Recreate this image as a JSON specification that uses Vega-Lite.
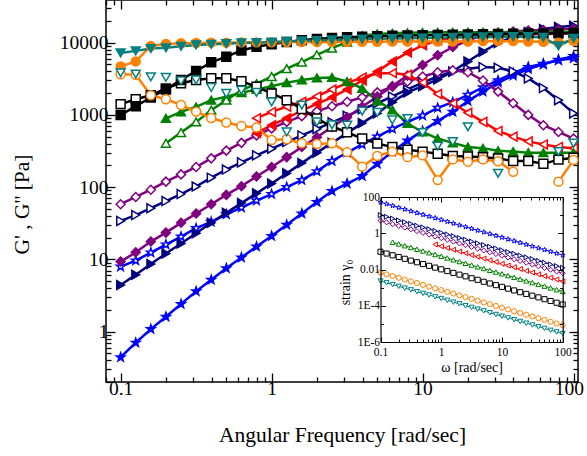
{
"$schema": "https://vega.github.io/schema/vega-lite/v6.json",
"width": 472, "height": 382,
"autosize": {"type": "none"},
"padding": {"left": 106, "top": 0, "right": 9, "bottom": 74},
"background": "white",
"config": {
  "font": "Liberation Serif",
  "view": {"stroke": "black", "strokeWidth": 1.5},
  "axis": {"labelFont": "Liberation Serif", "titleFont": "Liberation Serif", "titleFontWeight": "normal", "labelColor": "black", "titleColor": "black", "domainColor": "black", "tickColor": "black", "grid": false, "labelFlush": false, "labelOverlap": false, "labelBound": false}
},
"datasets": {
"main": [
{"s":"bl2","w":0.1,"v":7.9},{"s":"bl2","w":0.1259,"v":9.6},{"s":"bl2","w":0.1585,"v":12.4},{"s":"bl2","w":0.1995,"v":16},{"s":"bl2","w":0.2512,"v":20.6},{"s":"bl2","w":0.3162,"v":27},{"s":"bl2","w":0.3981,"v":33},{"s":"bl2","w":0.5012,"v":42},{"s":"bl2","w":0.631,"v":52},{"s":"bl2","w":0.7943,"v":65},{"s":"bl2","w":1,"v":80},{"s":"bl2","w":1.259,"v":100},{"s":"bl2","w":1.585,"v":125},{"s":"bl2","w":1.995,"v":165},{"s":"bl2","w":2.512,"v":230},{"s":"bl2","w":3.162,"v":300},{"s":"bl2","w":3.981,"v":390},{"s":"bl2","w":5.012,"v":500},{"s":"bl2","w":6.31,"v":640},{"s":"bl2","w":7.943,"v":800},{"s":"bl2","w":10,"v":980},{"s":"bl2","w":12.59,"v":1250},{"s":"bl2","w":15.85,"v":1500},{"s":"bl2","w":19.95,"v":1900},{"s":"bl2","w":25.12,"v":2400},{"s":"bl2","w":31.62,"v":3000},{"s":"bl2","w":39.81,"v":3800},{"s":"bl2","w":50.12,"v":4600},{"s":"bl2","w":63.1,"v":5100},{"s":"bl2","w":79.43,"v":5700},{"s":"bl2","w":100,"v":6100},
{"s":"bl1","w":0.1,"v":0.44},{"s":"bl1","w":0.1259,"v":0.7},{"s":"bl1","w":0.1585,"v":1.08},{"s":"bl1","w":0.1995,"v":1.6},{"s":"bl1","w":0.2512,"v":2.4},{"s":"bl1","w":0.3162,"v":3.6},{"s":"bl1","w":0.3981,"v":5.2},{"s":"bl1","w":0.5012,"v":7.5},{"s":"bl1","w":0.631,"v":10.6},{"s":"bl1","w":0.7943,"v":15},{"s":"bl1","w":1,"v":21},{"s":"bl1","w":1.259,"v":30},{"s":"bl1","w":1.585,"v":43},{"s":"bl1","w":1.995,"v":62},{"s":"bl1","w":2.512,"v":88},{"s":"bl1","w":3.162,"v":112},{"s":"bl1","w":3.981,"v":142},{"s":"bl1","w":5.012,"v":210},{"s":"bl1","w":6.31,"v":310},{"s":"bl1","w":7.943,"v":440},{"s":"bl1","w":10,"v":600},{"s":"bl1","w":12.59,"v":820},{"s":"bl1","w":15.85,"v":1100},{"s":"bl1","w":19.95,"v":1550},{"s":"bl1","w":25.12,"v":2100},{"s":"bl1","w":31.62,"v":2800},{"s":"bl1","w":39.81,"v":3500},{"s":"bl1","w":50.12,"v":4300},{"s":"bl1","w":63.1,"v":5000},{"s":"bl1","w":79.43,"v":5800},{"s":"bl1","w":100,"v":6500},
{"s":"nv2","w":0.1,"v":34},{"s":"nv2","w":0.1259,"v":41},{"s":"nv2","w":0.1585,"v":51},{"s":"nv2","w":0.1995,"v":64},{"s":"nv2","w":0.2512,"v":80},{"s":"nv2","w":0.3162,"v":102},{"s":"nv2","w":0.3981,"v":135},{"s":"nv2","w":0.5012,"v":175},{"s":"nv2","w":0.631,"v":220},{"s":"nv2","w":0.7943,"v":275},{"s":"nv2","w":1,"v":340},{"s":"nv2","w":1.259,"v":420},{"s":"nv2","w":1.585,"v":520},{"s":"nv2","w":1.995,"v":640},{"s":"nv2","w":2.512,"v":790},{"s":"nv2","w":3.162,"v":970},{"s":"nv2","w":3.981,"v":1200},{"s":"nv2","w":5.012,"v":1450},{"s":"nv2","w":6.31,"v":1800},{"s":"nv2","w":7.943,"v":2250},{"s":"nv2","w":10,"v":2800},{"s":"nv2","w":12.59,"v":3400},{"s":"nv2","w":15.85,"v":3950},{"s":"nv2","w":19.95,"v":4350},{"s":"nv2","w":25.12,"v":4600},{"s":"nv2","w":31.62,"v":4500},{"s":"nv2","w":39.81,"v":4000},{"s":"nv2","w":50.12,"v":3200},{"s":"nv2","w":63.1,"v":2350},{"s":"nv2","w":79.43,"v":1600},{"s":"nv2","w":100,"v":1050},
{"s":"nv1","w":0.1,"v":4.4},{"s":"nv1","w":0.1259,"v":6.1},{"s":"nv1","w":0.1585,"v":8.6},{"s":"nv1","w":0.1995,"v":12},{"s":"nv1","w":0.2512,"v":16.6},{"s":"nv1","w":0.3162,"v":23},{"s":"nv1","w":0.3981,"v":32},{"s":"nv1","w":0.5012,"v":44},{"s":"nv1","w":0.631,"v":60},{"s":"nv1","w":0.7943,"v":82},{"s":"nv1","w":1,"v":112},{"s":"nv1","w":1.259,"v":155},{"s":"nv1","w":1.585,"v":215},{"s":"nv1","w":1.995,"v":300},{"s":"nv1","w":2.512,"v":410},{"s":"nv1","w":3.162,"v":560},{"s":"nv1","w":3.981,"v":770},{"s":"nv1","w":5.012,"v":1050},{"s":"nv1","w":6.31,"v":1500},{"s":"nv1","w":7.943,"v":2050},{"s":"nv1","w":10,"v":2500},{"s":"nv1","w":12.59,"v":3100},{"s":"nv1","w":15.85,"v":4000},{"s":"nv1","w":19.95,"v":5500},{"s":"nv1","w":25.12,"v":7500},{"s":"nv1","w":31.62,"v":9900},{"s":"nv1","w":39.81,"v":12000},{"s":"nv1","w":50.12,"v":14000},{"s":"nv1","w":63.1,"v":15500},{"s":"nv1","w":79.43,"v":16500},{"s":"nv1","w":100,"v":17100},
{"s":"pu2","w":0.1,"v":58},{"s":"pu2","w":0.1259,"v":73},{"s":"pu2","w":0.1585,"v":92},{"s":"pu2","w":0.1995,"v":119},{"s":"pu2","w":0.2512,"v":150},{"s":"pu2","w":0.3162,"v":190},{"s":"pu2","w":0.3981,"v":250},{"s":"pu2","w":0.5012,"v":320},{"s":"pu2","w":0.631,"v":410},{"s":"pu2","w":0.7943,"v":520},{"s":"pu2","w":1,"v":650},{"s":"pu2","w":1.259,"v":800},{"s":"pu2","w":1.585,"v":960},{"s":"pu2","w":1.995,"v":1120},{"s":"pu2","w":2.512,"v":1320},{"s":"pu2","w":3.162,"v":1520},{"s":"pu2","w":3.981,"v":1750},{"s":"pu2","w":5.012,"v":2050},{"s":"pu2","w":6.31,"v":2450},{"s":"pu2","w":7.943,"v":2900},{"s":"pu2","w":10,"v":3400},{"s":"pu2","w":12.59,"v":3900},{"s":"pu2","w":15.85,"v":4150},{"s":"pu2","w":19.95,"v":3900},{"s":"pu2","w":25.12,"v":3000},{"s":"pu2","w":31.62,"v":2100},{"s":"pu2","w":39.81,"v":1450},{"s":"pu2","w":50.12,"v":1000},{"s":"pu2","w":63.1,"v":720},{"s":"pu2","w":79.43,"v":580},{"s":"pu2","w":100,"v":470},
{"s":"pu1","w":0.1,"v":9.3},{"s":"pu1","w":0.1259,"v":12.5},{"s":"pu1","w":0.1585,"v":17.6},{"s":"pu1","w":0.1995,"v":23.4},{"s":"pu1","w":0.2512,"v":32},{"s":"pu1","w":0.3162,"v":43},{"s":"pu1","w":0.3981,"v":58},{"s":"pu1","w":0.5012,"v":78},{"s":"pu1","w":0.631,"v":103},{"s":"pu1","w":0.7943,"v":140},{"s":"pu1","w":1,"v":190},{"s":"pu1","w":1.259,"v":260},{"s":"pu1","w":1.585,"v":360},{"s":"pu1","w":1.995,"v":490},{"s":"pu1","w":2.512,"v":680},{"s":"pu1","w":3.162,"v":930},{"s":"pu1","w":3.981,"v":1300},{"s":"pu1","w":5.012,"v":1800},{"s":"pu1","w":6.31,"v":2500},{"s":"pu1","w":7.943,"v":3500},{"s":"pu1","w":10,"v":4900},{"s":"pu1","w":12.59,"v":6700},{"s":"pu1","w":15.85,"v":8700},{"s":"pu1","w":19.95,"v":10800},{"s":"pu1","w":25.12,"v":12600},{"s":"pu1","w":31.62,"v":13700},{"s":"pu1","w":39.81,"v":14300},{"s":"pu1","w":50.12,"v":14700},{"s":"pu1","w":63.1,"v":15000},{"s":"pu1","w":79.43,"v":15300},{"s":"pu1","w":100,"v":15600},
{"s":"rd2","w":0.7943,"v":900},{"s":"rd2","w":1,"v":1100},{"s":"rd2","w":1.259,"v":1300},{"s":"rd2","w":1.585,"v":1520},{"s":"rd2","w":1.995,"v":1800},{"s":"rd2","w":2.512,"v":2250},{"s":"rd2","w":3.162,"v":2750},{"s":"rd2","w":3.981,"v":3300},{"s":"rd2","w":5.012,"v":3750},{"s":"rd2","w":6.31,"v":3800},{"s":"rd2","w":7.943,"v":3600},{"s":"rd2","w":10,"v":2800},{"s":"rd2","w":12.59,"v":1950},{"s":"rd2","w":15.85,"v":1450},{"s":"rd2","w":19.95,"v":1070},{"s":"rd2","w":25.12,"v":800},{"s":"rd2","w":31.62,"v":600},{"s":"rd2","w":39.81,"v":500},{"s":"rd2","w":50.12,"v":430},{"s":"rd2","w":63.1,"v":390},{"s":"rd2","w":79.43,"v":360},{"s":"rd2","w":100,"v":345},
{"s":"rd1","w":0.7943,"v":560},{"s":"rd1","w":1,"v":720},{"s":"rd1","w":1.259,"v":900},{"s":"rd1","w":1.585,"v":1150},{"s":"rd1","w":1.995,"v":1420},{"s":"rd1","w":2.512,"v":1750},{"s":"rd1","w":3.162,"v":2250},{"s":"rd1","w":3.981,"v":3000},{"s":"rd1","w":5.012,"v":4000},{"s":"rd1","w":6.31,"v":5500},{"s":"rd1","w":7.943,"v":7300},{"s":"rd1","w":10,"v":9200},{"s":"rd1","w":12.59,"v":10800},{"s":"rd1","w":15.85,"v":11800},{"s":"rd1","w":19.95,"v":12300},{"s":"rd1","w":25.12,"v":12600},{"s":"rd1","w":31.62,"v":12800},{"s":"rd1","w":39.81,"v":13000},{"s":"rd1","w":50.12,"v":13100},{"s":"rd1","w":63.1,"v":13200},{"s":"rd1","w":79.43,"v":13300},{"s":"rd1","w":100,"v":13400},
{"s":"gr1","w":0.1995,"v":895},{"s":"gr1","w":0.2512,"v":1100},{"s":"gr1","w":0.3162,"v":1290},{"s":"gr1","w":0.3981,"v":1600},{"s":"gr1","w":0.5012,"v":1780},{"s":"gr1","w":0.631,"v":2030},{"s":"gr1","w":0.7943,"v":2250},{"s":"gr1","w":1,"v":2500},{"s":"gr1","w":1.259,"v":2800},{"s":"gr1","w":1.585,"v":3050},{"s":"gr1","w":1.995,"v":3250},{"s":"gr1","w":2.512,"v":3300},{"s":"gr1","w":3.162,"v":2900},{"s":"gr1","w":3.981,"v":2330},{"s":"gr1","w":5.012,"v":1560},{"s":"gr1","w":6.31,"v":1170},{"s":"gr1","w":7.943,"v":760},{"s":"gr1","w":10,"v":580},{"s":"gr1","w":12.59,"v":470},{"s":"gr1","w":15.85,"v":410},{"s":"gr1","w":19.95,"v":360},{"s":"gr1","w":25.12,"v":345},{"s":"gr1","w":31.62,"v":320},{"s":"gr1","w":39.81,"v":310},{"s":"gr1","w":50.12,"v":300},{"s":"gr1","w":63.1,"v":300},{"s":"gr1","w":79.43,"v":300},{"s":"gr1","w":100,"v":300},
{"s":"gr2","w":0.1995,"v":404},{"s":"gr2","w":0.2512,"v":570},{"s":"gr2","w":0.3162,"v":800},{"s":"gr2","w":0.3981,"v":1160},{"s":"gr2","w":0.5012,"v":1600},{"s":"gr2","w":0.631,"v":2190},{"s":"gr2","w":0.7943,"v":2700},{"s":"gr2","w":1,"v":3400},{"s":"gr2","w":1.259,"v":4370},{"s":"gr2","w":1.585,"v":5400},{"s":"gr2","w":1.995,"v":6800},{"s":"gr2","w":2.512,"v":8400},{"s":"gr2","w":3.162,"v":10200},{"s":"gr2","w":3.981,"v":12500},{"s":"gr2","w":5.012,"v":13200},{"s":"gr2","w":6.31,"v":13500},{"s":"gr2","w":7.943,"v":13700},{"s":"gr2","w":10,"v":13800},{"s":"gr2","w":12.59,"v":13900},{"s":"gr2","w":15.85,"v":13900},{"s":"gr2","w":19.95,"v":14000},{"s":"gr2","w":25.12,"v":14000},{"s":"gr2","w":31.62,"v":14000},{"s":"gr2","w":39.81,"v":14000},{"s":"gr2","w":50.12,"v":14000},{"s":"gr2","w":63.1,"v":14100},{"s":"gr2","w":79.43,"v":14100},{"s":"gr2","w":100,"v":14200},
{"s":"bk2","w":0.1,"v":1410},{"s":"bk2","w":0.1259,"v":1650},{"s":"bk2","w":0.1585,"v":1870},{"s":"bk2","w":0.1995,"v":2330},{"s":"bk2","w":0.2512,"v":2750},{"s":"bk2","w":0.3162,"v":3050},{"s":"bk2","w":0.3981,"v":3210},{"s":"bk2","w":0.5012,"v":3210},{"s":"bk2","w":0.631,"v":2930},{"s":"bk2","w":0.7943,"v":2450},{"s":"bk2","w":1,"v":1980},{"s":"bk2","w":1.259,"v":1600},{"s":"bk2","w":1.585,"v":1210},{"s":"bk2","w":1.995,"v":890},{"s":"bk2","w":2.512,"v":690},{"s":"bk2","w":3.162,"v":575},{"s":"bk2","w":3.981,"v":470},{"s":"bk2","w":5.012,"v":400},{"s":"bk2","w":6.31,"v":360},{"s":"bk2","w":7.943,"v":330},{"s":"bk2","w":10,"v":310},{"s":"bk2","w":12.59,"v":290},{"s":"bk2","w":15.85,"v":270},{"s":"bk2","w":19.95,"v":265},{"s":"bk2","w":25.12,"v":260},{"s":"bk2","w":31.62,"v":250},{"s":"bk2","w":39.81,"v":230},{"s":"bk2","w":50.12,"v":230},{"s":"bk2","w":63.1,"v":210},{"s":"bk2","w":79.43,"v":240},{"s":"bk2","w":100,"v":255},
{"s":"bk1","w":0.1,"v":995},{"s":"bk1","w":0.1259,"v":1320},{"s":"bk1","w":0.1585,"v":1740},{"s":"bk1","w":0.1995,"v":2250},{"s":"bk1","w":0.2512,"v":3050},{"s":"bk1","w":0.3162,"v":4050},{"s":"bk1","w":0.3981,"v":5350},{"s":"bk1","w":0.5012,"v":6400},{"s":"bk1","w":0.631,"v":7800},{"s":"bk1","w":0.7943,"v":8800},{"s":"bk1","w":1,"v":9500},{"s":"bk1","w":1.259,"v":10200},{"s":"bk1","w":1.585,"v":10800},{"s":"bk1","w":1.995,"v":11300},{"s":"bk1","w":2.512,"v":11600},{"s":"bk1","w":3.162,"v":11900},{"s":"bk1","w":3.981,"v":12100},{"s":"bk1","w":5.012,"v":12300},{"s":"bk1","w":6.31,"v":12500},{"s":"bk1","w":7.943,"v":12600},{"s":"bk1","w":10,"v":12700},{"s":"bk1","w":12.59,"v":12800},{"s":"bk1","w":15.85,"v":12900},{"s":"bk1","w":19.95,"v":13000},{"s":"bk1","w":25.12,"v":13100},{"s":"bk1","w":31.62,"v":13200},{"s":"bk1","w":39.81,"v":13300},{"s":"bk1","w":50.12,"v":13400},{"s":"bk1","w":63.1,"v":13400},{"s":"bk1","w":79.43,"v":13500},{"s":"bk1","w":100,"v":13600},
{"s":"or2","w":0.1,"v":3650},{"s":"or2","w":0.1259,"v":3600},{"s":"or2","w":0.1585,"v":1870},{"s":"or2","w":0.1995,"v":1650},{"s":"or2","w":0.2512,"v":1370},{"s":"or2","w":0.3162,"v":1110},{"s":"or2","w":0.3981,"v":905},{"s":"or2","w":0.5012,"v":785},{"s":"or2","w":0.631,"v":700},{"s":"or2","w":0.7943,"v":670},{"s":"or2","w":1,"v":450},{"s":"or2","w":1.259,"v":460},{"s":"or2","w":1.585,"v":405},{"s":"or2","w":1.995,"v":395},{"s":"or2","w":2.512,"v":405},{"s":"or2","w":3.162,"v":305},{"s":"or2","w":3.981,"v":192},{"s":"or2","w":5.012,"v":270},{"s":"or2","w":6.31,"v":310},{"s":"or2","w":7.943,"v":260},{"s":"or2","w":10,"v":275},{"s":"or2","w":12.59,"v":125},{"s":"or2","w":15.85,"v":242},{"s":"or2","w":19.95,"v":225},{"s":"or2","w":25.12,"v":242},{"s":"or2","w":31.62,"v":228},{"s":"or2","w":39.81,"v":163},{"s":"or2","w":79.43,"v":119,"g":"b"},{"s":"or2","w":100,"v":237,"g":"b"},
{"s":"or1","w":0.1,"v":4700},{"s":"or1","w":0.1259,"v":5500},{"s":"or1","w":0.1585,"v":9000},{"s":"or1","w":0.1995,"v":9600},{"s":"or1","w":0.2512,"v":9800},{"s":"or1","w":0.3162,"v":9900},{"s":"or1","w":0.3981,"v":10000},{"s":"or1","w":0.5012,"v":10000},{"s":"or1","w":0.631,"v":10100},{"s":"or1","w":0.7943,"v":10100},{"s":"or1","w":1,"v":10100},{"s":"or1","w":1.259,"v":10200},{"s":"or1","w":1.585,"v":10200},{"s":"or1","w":1.995,"v":10200},{"s":"or1","w":2.512,"v":10300},{"s":"or1","w":3.162,"v":10300},{"s":"or1","w":3.981,"v":10300},{"s":"or1","w":5.012,"v":10300},{"s":"or1","w":6.31,"v":10400},{"s":"or1","w":7.943,"v":10400},{"s":"or1","w":10,"v":10400},{"s":"or1","w":12.59,"v":10400},{"s":"or1","w":15.85,"v":10400},{"s":"or1","w":19.95,"v":10400},{"s":"or1","w":25.12,"v":10500},{"s":"or1","w":31.62,"v":10500},{"s":"or1","w":39.81,"v":10500},{"s":"or1","w":50.12,"v":10400},{"s":"or1","w":63.1,"v":10300},{"s":"or1","w":79.43,"v":10000},{"s":"or1","w":100,"v":10600},
{"s":"te2","w":0.1,"v":3820},{"s":"te2","w":0.1259,"v":3680},{"s":"te2","w":0.1585,"v":3370},{"s":"te2","w":0.1995,"v":3300},{"s":"te2","w":0.2512,"v":2950},{"s":"te2","w":0.3162,"v":3050},{"s":"te2","w":0.3981,"v":2400},{"s":"te2","w":0.5012,"v":1980},{"s":"te2","w":0.631,"v":2200},{"s":"te2","w":0.7943,"v":2050},{"s":"te2","w":1,"v":1520},{"s":"te2","w":1.259,"v":580},{"s":"te2","w":1.585,"v":1370},{"s":"te2","w":1.995,"v":800},{"s":"te2","w":2.512,"v":730},{"s":"te2","w":3.162,"v":720},{"s":"te2","w":3.981,"v":1130},{"s":"te2","w":5.012,"v":1080},{"s":"te2","w":6.31,"v":850},{"s":"te2","w":7.943,"v":890},{"s":"te2","w":10,"v":570},{"s":"te2","w":12.59,"v":370},{"s":"te2","w":15.85,"v":425},{"s":"te2","w":19.95,"v":685},{"s":"te2","w":31.62,"v":155},{"s":"te2","w":79.43,"v":310},{"s":"te2","w":100,"v":405},
{"s":"te1","w":0.1,"v":7200},{"s":"te1","w":0.1259,"v":7700},{"s":"te1","w":0.1585,"v":8300},{"s":"te1","w":0.1995,"v":8500},{"s":"te1","w":0.2512,"v":8900},{"s":"te1","w":0.3162,"v":9300},{"s":"te1","w":0.3981,"v":9500},{"s":"te1","w":0.5012,"v":9700},{"s":"te1","w":0.631,"v":9900},{"s":"te1","w":0.7943,"v":10000},{"s":"te1","w":1,"v":10200},{"s":"te1","w":1.259,"v":10400},{"s":"te1","w":1.585,"v":10600},{"s":"te1","w":1.995,"v":10700},{"s":"te1","w":2.512,"v":10900},{"s":"te1","w":3.162,"v":11000},{"s":"te1","w":3.981,"v":11200},{"s":"te1","w":5.012,"v":11300},{"s":"te1","w":6.31,"v":11400},{"s":"te1","w":7.943,"v":11500},{"s":"te1","w":10,"v":11600},{"s":"te1","w":12.59,"v":11700},{"s":"te1","w":15.85,"v":11800},{"s":"te1","w":19.95,"v":11900},{"s":"te1","w":25.12,"v":12000},{"s":"te1","w":31.62,"v":12000},{"s":"te1","w":39.81,"v":12100},{"s":"te1","w":50.12,"v":12100},{"s":"te1","w":63.1,"v":11800},{"s":"te1","w":79.43,"v":9000},{"s":"te1","w":100,"v":11500}
],
"ins": [
{"s":"bl2","w":0.1,"v":51},{"s":"bl2","w":0.1259,"v":41},{"s":"bl2","w":0.1585,"v":33},{"s":"bl2","w":0.1995,"v":26},{"s":"bl2","w":0.2512,"v":21},{"s":"bl2","w":0.3162,"v":16.5},{"s":"bl2","w":0.3981,"v":13.3},{"s":"bl2","w":0.5012,"v":10.6},{"s":"bl2","w":0.631,"v":8.5},{"s":"bl2","w":0.7943,"v":6.9},{"s":"bl2","w":1,"v":5.5},{"s":"bl2","w":1.259,"v":4.4},{"s":"bl2","w":1.585,"v":3.5},{"s":"bl2","w":1.995,"v":2.8},{"s":"bl2","w":2.512,"v":2.25},{"s":"bl2","w":3.162,"v":1.8},{"s":"bl2","w":3.981,"v":1.43},{"s":"bl2","w":5.012,"v":1.15},{"s":"bl2","w":6.31,"v":0.92},{"s":"bl2","w":7.943,"v":0.74},{"s":"bl2","w":10,"v":0.59},{"s":"bl2","w":12.59,"v":0.47},{"s":"bl2","w":15.85,"v":0.375},{"s":"bl2","w":19.95,"v":0.3},{"s":"bl2","w":25.12,"v":0.24},{"s":"bl2","w":31.62,"v":0.19},{"s":"bl2","w":39.81,"v":0.152},{"s":"bl2","w":50.12,"v":0.122},{"s":"bl2","w":63.1,"v":0.098},{"s":"bl2","w":79.43,"v":0.078},{"s":"bl2","w":100,"v":0.062},
{"s":"nv2","w":0.1,"v":10},{"s":"nv2","w":0.1259,"v":8.1},{"s":"nv2","w":0.1585,"v":6.4},{"s":"nv2","w":0.1995,"v":5.1},{"s":"nv2","w":0.2512,"v":4.1},{"s":"nv2","w":0.3162,"v":3.3},{"s":"nv2","w":0.3981,"v":2.6},{"s":"nv2","w":0.5012,"v":2.1},{"s":"nv2","w":0.631,"v":1.68},{"s":"nv2","w":0.7943,"v":1.34},{"s":"nv2","w":1,"v":1.07},{"s":"nv2","w":1.259,"v":0.86},{"s":"nv2","w":1.585,"v":0.69},{"s":"nv2","w":1.995,"v":0.55},{"s":"nv2","w":2.512,"v":0.44},{"s":"nv2","w":3.162,"v":0.35},{"s":"nv2","w":3.981,"v":0.28},{"s":"nv2","w":5.012,"v":0.225},{"s":"nv2","w":6.31,"v":0.18},{"s":"nv2","w":7.943,"v":0.144},{"s":"nv2","w":10,"v":0.115},{"s":"nv2","w":12.59,"v":0.092},{"s":"nv2","w":15.85,"v":0.074},{"s":"nv2","w":19.95,"v":0.059},{"s":"nv2","w":25.12,"v":0.047},{"s":"nv2","w":31.62,"v":0.038},{"s":"nv2","w":39.81,"v":0.03},{"s":"nv2","w":50.12,"v":0.024},{"s":"nv2","w":63.1,"v":0.019},{"s":"nv2","w":79.43,"v":0.0155},{"s":"nv2","w":100,"v":0.0124},
{"s":"pu2","w":0.1,"v":5},{"s":"pu2","w":0.1259,"v":4},{"s":"pu2","w":0.1585,"v":3.2},{"s":"pu2","w":0.1995,"v":2.55},{"s":"pu2","w":0.2512,"v":2.05},{"s":"pu2","w":0.3162,"v":1.64},{"s":"pu2","w":0.3981,"v":1.31},{"s":"pu2","w":0.5012,"v":1.05},{"s":"pu2","w":0.631,"v":0.84},{"s":"pu2","w":0.7943,"v":0.67},{"s":"pu2","w":1,"v":0.54},{"s":"pu2","w":1.259,"v":0.43},{"s":"pu2","w":1.585,"v":0.345},{"s":"pu2","w":1.995,"v":0.275},{"s":"pu2","w":2.512,"v":0.22},{"s":"pu2","w":3.162,"v":0.176},{"s":"pu2","w":3.981,"v":0.14},{"s":"pu2","w":5.012,"v":0.112},{"s":"pu2","w":6.31,"v":0.09},{"s":"pu2","w":7.943,"v":0.072},{"s":"pu2","w":10,"v":0.058},{"s":"pu2","w":12.59,"v":0.046},{"s":"pu2","w":15.85,"v":0.037},{"s":"pu2","w":19.95,"v":0.0295},{"s":"pu2","w":25.12,"v":0.0236},{"s":"pu2","w":31.62,"v":0.0189},{"s":"pu2","w":39.81,"v":0.0151},{"s":"pu2","w":50.12,"v":0.0121},{"s":"pu2","w":63.1,"v":0.0097},{"s":"pu2","w":79.43,"v":0.0078},{"s":"pu2","w":100,"v":0.0062},
{"s":"rd2","w":0.7943,"v":0.24},{"s":"rd2","w":1,"v":0.19},{"s":"rd2","w":1.259,"v":0.154},{"s":"rd2","w":1.585,"v":0.123},{"s":"rd2","w":1.995,"v":0.098},{"s":"rd2","w":2.512,"v":0.079},{"s":"rd2","w":3.162,"v":0.063},{"s":"rd2","w":3.981,"v":0.05},{"s":"rd2","w":5.012,"v":0.04},{"s":"rd2","w":6.31,"v":0.032},{"s":"rd2","w":7.943,"v":0.026},{"s":"rd2","w":10,"v":0.0206},{"s":"rd2","w":12.59,"v":0.0165},{"s":"rd2","w":15.85,"v":0.0132},{"s":"rd2","w":19.95,"v":0.0106},{"s":"rd2","w":25.12,"v":0.0084},{"s":"rd2","w":31.62,"v":0.0068},{"s":"rd2","w":39.81,"v":0.0054},{"s":"rd2","w":50.12,"v":0.0043},{"s":"rd2","w":63.1,"v":0.0035},{"s":"rd2","w":79.43,"v":0.0028},{"s":"rd2","w":100,"v":0.0022},
{"s":"gr2","w":0.1585,"v":0.32},{"s":"gr2","w":0.1995,"v":0.256},{"s":"gr2","w":0.2512,"v":0.205},{"s":"gr2","w":0.3162,"v":0.164},{"s":"gr2","w":0.3981,"v":0.131},{"s":"gr2","w":0.5012,"v":0.105},{"s":"gr2","w":0.631,"v":0.084},{"s":"gr2","w":0.7943,"v":0.067},{"s":"gr2","w":1,"v":0.054},{"s":"gr2","w":1.259,"v":0.043},{"s":"gr2","w":1.585,"v":0.034},{"s":"gr2","w":1.995,"v":0.0275},{"s":"gr2","w":2.512,"v":0.022},{"s":"gr2","w":3.162,"v":0.0176},{"s":"gr2","w":3.981,"v":0.014},{"s":"gr2","w":5.012,"v":0.0113},{"s":"gr2","w":6.31,"v":0.009},{"s":"gr2","w":7.943,"v":0.0072},{"s":"gr2","w":10,"v":0.0058},{"s":"gr2","w":12.59,"v":0.0046},{"s":"gr2","w":15.85,"v":0.0037},{"s":"gr2","w":19.95,"v":0.00295},{"s":"gr2","w":25.12,"v":0.00236},{"s":"gr2","w":31.62,"v":0.00189},{"s":"gr2","w":39.81,"v":0.00151},{"s":"gr2","w":50.12,"v":0.00121},{"s":"gr2","w":63.1,"v":0.00097},{"s":"gr2","w":79.43,"v":0.00077},{"s":"gr2","w":100,"v":0.00062},
{"s":"bk2","w":0.1,"v":0.095},{"s":"bk2","w":0.1259,"v":0.076},{"s":"bk2","w":0.1585,"v":0.061},{"s":"bk2","w":0.1995,"v":0.049},{"s":"bk2","w":0.2512,"v":0.039},{"s":"bk2","w":0.3162,"v":0.031},{"s":"bk2","w":0.3981,"v":0.025},{"s":"bk2","w":0.5012,"v":0.02},{"s":"bk2","w":0.631,"v":0.016},{"s":"bk2","w":0.7943,"v":0.0127},{"s":"bk2","w":1,"v":0.0102},{"s":"bk2","w":1.259,"v":0.0082},{"s":"bk2","w":1.585,"v":0.0065},{"s":"bk2","w":1.995,"v":0.0052},{"s":"bk2","w":2.512,"v":0.0042},{"s":"bk2","w":3.162,"v":0.0033},{"s":"bk2","w":3.981,"v":0.0027},{"s":"bk2","w":5.012,"v":0.0021},{"s":"bk2","w":6.31,"v":0.0017},{"s":"bk2","w":7.943,"v":0.00137},{"s":"bk2","w":10,"v":0.0011},{"s":"bk2","w":12.59,"v":0.00088},{"s":"bk2","w":15.85,"v":0.0007},{"s":"bk2","w":19.95,"v":0.00056},{"s":"bk2","w":25.12,"v":0.00045},{"s":"bk2","w":31.62,"v":0.00036},{"s":"bk2","w":39.81,"v":0.00029},{"s":"bk2","w":50.12,"v":0.00023},{"s":"bk2","w":63.1,"v":0.000183},{"s":"bk2","w":79.43,"v":0.000147},{"s":"bk2","w":100,"v":0.000118},
{"s":"or2","w":0.1,"v":0.0068},{"s":"or2","w":0.1259,"v":0.0054},{"s":"or2","w":0.1585,"v":0.0044},{"s":"or2","w":0.1995,"v":0.0035},{"s":"or2","w":0.2512,"v":0.0028},{"s":"or2","w":0.3162,"v":0.0022},{"s":"or2","w":0.3981,"v":0.0018},{"s":"or2","w":0.5012,"v":0.00143},{"s":"or2","w":0.631,"v":0.00114},{"s":"or2","w":0.7943,"v":0.00091},{"s":"or2","w":1,"v":0.00073},{"s":"or2","w":1.259,"v":0.00058},{"s":"or2","w":1.585,"v":0.00047},{"s":"or2","w":1.995,"v":0.00037},{"s":"or2","w":2.512,"v":0.0003},{"s":"or2","w":3.162,"v":0.00024},{"s":"or2","w":3.981,"v":0.00019},{"s":"or2","w":5.012,"v":0.000153},{"s":"or2","w":6.31,"v":0.000122},{"s":"or2","w":7.943,"v":0.000098},{"s":"or2","w":10,"v":0.000078},{"s":"or2","w":12.59,"v":0.000063},{"s":"or2","w":15.85,"v":0.00005},{"s":"or2","w":19.95,"v":0.00004},{"s":"or2","w":25.12,"v":0.000032},{"s":"or2","w":31.62,"v":0.0000257},{"s":"or2","w":39.81,"v":0.0000205},{"s":"or2","w":50.12,"v":0.0000165},{"s":"or2","w":63.1,"v":0.0000131},{"s":"or2","w":79.43,"v":0.0000105},{"s":"or2","w":100,"v":0.0000084},
{"s":"te2","w":0.1,"v":0.0023},{"s":"te2","w":0.1259,"v":0.00184},{"s":"te2","w":0.1585,"v":0.00147},{"s":"te2","w":0.1995,"v":0.00118},{"s":"te2","w":0.2512,"v":0.00094},{"s":"te2","w":0.3162,"v":0.00075},{"s":"te2","w":0.3981,"v":0.0006},{"s":"te2","w":0.5012,"v":0.00048},{"s":"te2","w":0.631,"v":0.00039},{"s":"te2","w":0.7943,"v":0.00031},{"s":"te2","w":1,"v":0.00025},{"s":"te2","w":1.259,"v":0.0002},{"s":"te2","w":1.585,"v":0.000158},{"s":"te2","w":1.995,"v":0.000127},{"s":"te2","w":2.512,"v":0.0001},{"s":"te2","w":3.162,"v":0.000081},{"s":"te2","w":3.981,"v":0.000065},{"s":"te2","w":5.012,"v":0.000052},{"s":"te2","w":6.31,"v":0.000041},{"s":"te2","w":7.943,"v":0.000033},{"s":"te2","w":10,"v":0.0000265},{"s":"te2","w":12.59,"v":0.0000212},{"s":"te2","w":15.85,"v":0.000017},{"s":"te2","w":19.95,"v":0.0000136},{"s":"te2","w":25.12,"v":0.0000109},{"s":"te2","w":31.62,"v":0.0000087},{"s":"te2","w":39.81,"v":0.0000069},{"s":"te2","w":50.12,"v":0.0000056},{"s":"te2","w":63.1,"v":0.0000044},{"s":"te2","w":79.43,"v":0.0000036},{"s":"te2","w":100,"v":0.0000029}
]
},
"layer": [
{
  "data": {"name": "main"},
  "resolve": {"axis": {"x": "independent", "y": "independent"}},
  "layer": [
    {
      "layer": [
        {
          "transform": [{"filter": "datum.s != 'te2'"}],
          "mark": {"type": "line", "strokeWidth": 2.5},
          "encoding": {
            "x": {"field": "w", "type": "quantitative", "scale": {"type": "log", "domain": [0.08, 107]},
              "axis": {"orient": "bottom", "values": [0.08,0.09,0.1,0.2,0.3,0.4,0.5,0.6,0.7,0.8,0.9,1,2,3,4,5,6,7,8,9,10,20,30,40,50,60,70,80,90,100],
                "labelExpr": "abs(log(datum.value)/LN10 - round(log(datum.value)/LN10)) < 0.001 ? format(datum.value, '~g') : ''",
                "tickSize": {"condition": {"test": "abs(log(datum.value)/LN10 - round(log(datum.value)/LN10)) < 0.001", "value": -9}, "value": -5},
                "tickWidth": 1.3, "domain": false, "labelFontSize": 19.5, "labelPadding": 6, "labelFlush": 6, "labelFlushOffset": 10,
                "title": "Angular Frequency [rad/sec]", "titleFontSize": 21.5, "titlePadding": 23}},
            "y": {"field": "v", "type": "quantitative", "scale": {"type": "log", "domain": [0.2, 39000]},
              "axis": {"orient": "left", "values": [0.2,0.3,0.4,0.5,0.6,0.7,0.8,0.9,1,2,3,4,5,6,7,8,9,10,20,30,40,50,60,70,80,90,100,200,300,400,500,600,700,800,900,1000,2000,3000,4000,5000,6000,7000,8000,9000,10000,20000,30000],
                "labelExpr": "abs(log(datum.value)/LN10 - round(log(datum.value)/LN10)) < 0.001 ? format(datum.value, '~g') : ''",
                "tickSize": {"condition": {"test": "abs(log(datum.value)/LN10 - round(log(datum.value)/LN10)) < 0.001", "value": -9}, "value": -5},
                "tickWidth": 1.3, "domain": false, "labelFontSize": 19.5, "labelPadding": 7,
                "title": "G' , G'' [Pa]", "titleFontSize": 21.5, "titleX": -73, "titleY": 204}},
            "stroke": {"field": "s", "type": "nominal", "legend": null,
              "scale": {"domain": ["bl1","bl2","nv1","nv2","pu1","pu2","rd1","rd2","gr1","gr2","bk1","bk2","or1","or2","te1","te2"],
                "range": ["#0000ff","#0000ff","#000080","#000080","#800080","#800080","#ff0000","#ff0000","#008000","#008000","#000000","#000000","#ff8000","#ff8000","#008080","#008080"]}},
            "detail": {"field": "g", "type": "nominal"}
          }
        },
        {
          "mark": {"type": "point", "filled": true, "size": 80, "strokeWidth": 1.5, "opacity": 1},
          "encoding": {
            "x": {"field": "w", "type": "quantitative", "scale": {"type": "log", "domain": [0.08, 107]}},
            "y": {"field": "v", "type": "quantitative", "scale": {"type": "log", "domain": [0.2, 39000]}},
            "stroke": {"field": "s", "type": "nominal", "legend": null},
            "fill": {"field": "s", "type": "nominal", "legend": null,
              "scale": {"domain": ["bl1","bl2","nv1","nv2","pu1","pu2","rd1","rd2","gr1","gr2","bk1","bk2","or1","or2","te1","te2"],
                "range": ["#0000ff","white","#000080","white","#800080","white","#ff0000","white","#008000","white","#000000","white","#ff8000","white","#008080","white"]}},
            "shape": {"field": "s", "type": "nominal", "legend": null,
              "scale": {"domain": ["bl1","bl2","nv1","nv2","pu1","pu2","rd1","rd2","gr1","gr2","bk1","bk2","or1","or2","te1","te2"],
                "range": ["M0,-1L0.235,-0.324L0.951,-0.309L0.38,0.124L0.588,0.809L0,0.4L-0.588,0.809L-0.38,0.124L-0.951,-0.309L-0.235,-0.324Z","M0,-1L0.235,-0.324L0.951,-0.309L0.38,0.124L0.588,0.809L0,0.4L-0.588,0.809L-0.38,0.124L-0.951,-0.309L-0.235,-0.324Z","triangle-right","triangle-right","diamond","diamond","triangle-left","triangle-left","triangle-up","triangle-up","square","square","circle","circle","triangle-down","triangle-down"]}}
          }
        }
      ]
    },
    {
      "mark": {"type": "point", "opacity": 0},
      "encoding": {
        "x": {"field": "w", "type": "quantitative", "scale": {"type": "log", "domain": [0.08, 107]},
          "axis": {"orient": "top", "values": [0.08,0.09,0.1,0.2,0.3,0.4,0.5,0.6,0.7,0.8,0.9,1,2,3,4,5,6,7,8,9,10,20,30,40,50,60,70,80,90,100], "labels": false, "title": null, "domain": false, "tickWidth": 1.3,
            "tickSize": {"condition": {"test": "abs(log(datum.value)/LN10 - round(log(datum.value)/LN10)) < 0.001", "value": -9}, "value": -5}}},
        "y": {"field": "v", "type": "quantitative", "scale": {"type": "log", "domain": [0.2, 39000]},
          "axis": {"orient": "right", "values": [0.2,0.3,0.4,0.5,0.6,0.7,0.8,0.9,1,2,3,4,5,6,7,8,9,10,20,30,40,50,60,70,80,90,100,200,300,400,500,600,700,800,900,1000,2000,3000,4000,5000,6000,7000,8000,9000,10000,20000,30000], "labels": false, "title": null, "domain": false, "tickWidth": 1.3,
            "tickSize": {"condition": {"test": "abs(log(datum.value)/LN10 - round(log(datum.value)/LN10)) < 0.001", "value": -9}, "value": -5}}}
      }
    }
  ]
},
{
  "resolve": {"axis": {"x": "independent", "y": "independent"}},
  "layer": [
    {
      "data": {"values": [{"x1": 0.1, "x2": 100, "y1": 0.000001, "y2": 100}]},
      "mark": {"type": "rect", "fill": "white", "stroke": null},
      "encoding": {
        "x": {"field": "x1", "type": "quantitative", "scale": {"type": "log", "domain": [0.1, 100], "range": [274.5, 456.7]},
          "axis": {"orient": "bottom", "offset": -40, "zindex": 2, "values": [0.1,0.2,0.3,0.4,0.5,0.6,0.7,0.8,0.9,1,2,3,4,5,6,7,8,9,10,20,30,40,50,60,70,80,90,100],
            "labelExpr": "abs(log(datum.value)/LN10 - round(log(datum.value)/LN10)) < 0.001 ? format(datum.value, '~g') : ''",
            "tickSize": {"condition": {"test": "abs(log(datum.value)/LN10 - round(log(datum.value)/LN10)) < 0.001", "value": -5}, "value": -3},
            "domainWidth": 1.2, "tickWidth": 1, "labelFontSize": 11.5, "labelPadding": 9, "title": "ω [rad/sec]", "titleFontSize": 14, "titlePadding": 1}},
        "x2": {"field": "x2"},
        "y": {"field": "y1", "type": "quantitative", "scale": {"type": "log", "domain": [0.000001, 100], "range": [342, 197]},
          "axis": {"orient": "left", "offset": -274.5, "zindex": 2, "values": [0.000001,0.00001,0.0001,0.001,0.01,0.1,1,10,100],
            "labelExpr": "abs(log(datum.value)/LN10/2 - round(log(datum.value)/LN10/2)) < 0.001 ? (datum.value >= 0.01 ? format(datum.value, '~g') : (datum.value > 0.00005 ? '1E-4' : '1E-6')) : ''",
            "tickSize": {"condition": {"test": "abs(log(datum.value)/LN10/2 - round(log(datum.value)/LN10/2)) < 0.001", "value": -5}, "value": -3},
            "domainWidth": 1.2, "tickWidth": 1, "labelFontSize": 11.5, "labelPadding": 6, "title": "strain γ₀", "titleFontSize": 14, "titleX": -28.5, "titleY": 282}},
        "y2": {"field": "y2"}
      }
    },
    {
      "data": {"name": "ins"},
      "layer": [
        {
          "mark": {"type": "line", "strokeWidth": 1},
          "encoding": {
            "x": {"field": "w", "type": "quantitative", "scale": {"type": "log", "domain": [0.1, 100], "range": [274.5, 456.7]}, "axis": null},
            "y": {"field": "v", "type": "quantitative", "scale": {"type": "log", "domain": [0.000001, 100], "range": [342, 197]}, "axis": null},
            "stroke": {"field": "s", "type": "nominal", "legend": null}
          }
        },
        {
          "mark": {"type": "point", "filled": true, "fill": "white", "size": 26, "strokeWidth": 1, "opacity": 1},
          "encoding": {
            "x": {"field": "w", "type": "quantitative", "scale": {"type": "log", "domain": [0.1, 100], "range": [274.5, 456.7]}, "axis": null},
            "y": {"field": "v", "type": "quantitative", "scale": {"type": "log", "domain": [0.000001, 100], "range": [342, 197]}, "axis": null},
            "stroke": {"field": "s", "type": "nominal", "legend": null},
            "shape": {"field": "s", "type": "nominal", "legend": null}
          }
        }
      ]
    },
    {
      "data": {"values": [{"a": 1, "b": 1}]},
      "mark": {"type": "point", "opacity": 0},
      "encoding": {
        "x": {"field": "a", "type": "quantitative", "scale": {"type": "log", "domain": [0.1, 100], "range": [274.5, 456.7]},
          "axis": {"orient": "top", "offset": -197, "zindex": 2, "values": [0.1,0.2,0.3,0.4,0.5,0.6,0.7,0.8,0.9,1,2,3,4,5,6,7,8,9,10,20,30,40,50,60,70,80,90,100], "labels": false, "title": null, "domainWidth": 1.2, "tickWidth": 1,
            "tickSize": {"condition": {"test": "abs(log(datum.value)/LN10 - round(log(datum.value)/LN10)) < 0.001", "value": -5}, "value": -3}}},
        "y": {"field": "b", "type": "quantitative", "scale": {"type": "log", "domain": [0.000001, 100], "range": [342, 197]},
          "axis": {"orient": "right", "offset": -15.3, "zindex": 2, "values": [0.000001,0.00001,0.0001,0.001,0.01,0.1,1,10,100], "labels": false, "title": null, "domainWidth": 1.2, "tickWidth": 1,
            "tickSize": {"condition": {"test": "abs(log(datum.value)/LN10/2 - round(log(datum.value)/LN10/2)) < 0.001", "value": -5}, "value": -3}}}
      }
    }
  ]
}
],
"resolve": {"scale": {"x": "independent", "y": "independent"}, "axis": {"x": "independent", "y": "independent"}}
}
